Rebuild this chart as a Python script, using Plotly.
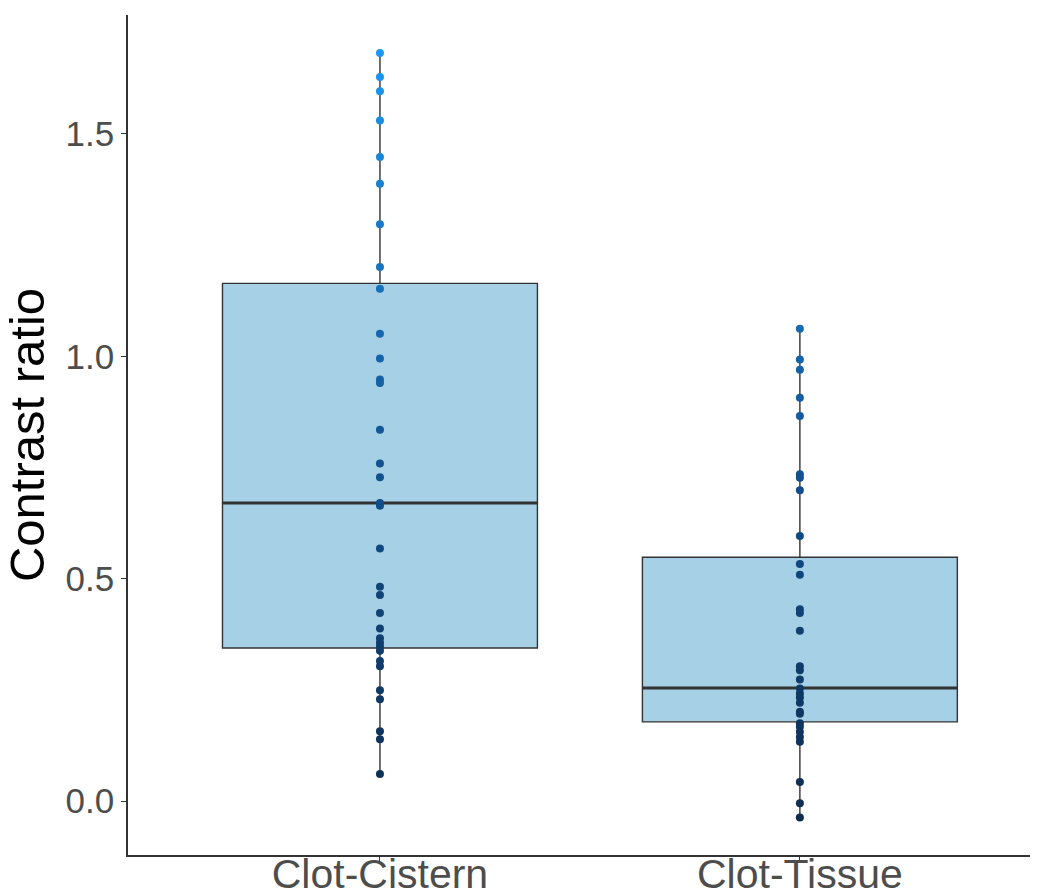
import plotly.graph_objects as go

# Groups and per-sample contrast ratios
categories = ["Clot-Cistern", "Clot-Tissue"]

cistern_values = [
    1.682, 1.628, 1.596, 1.530, 1.448, 1.388, 1.297, 1.201, 1.152,
    1.051, 0.995, 0.948, 0.940, 0.835, 0.759, 0.728, 0.670, 0.664,
    0.568, 0.482, 0.463, 0.423, 0.388, 0.366, 0.356, 0.347, 0.338,
    0.315, 0.303, 0.249, 0.229, 0.157, 0.139, 0.061,
]
tissue_values = [
    1.062, 0.993, 0.970, 0.907, 0.866, 0.735, 0.727, 0.699, 0.596,
    0.533, 0.509, 0.431, 0.423, 0.383, 0.303, 0.294, 0.273, 0.253,
    0.242, 0.233, 0.221, 0.201, 0.196, 0.175, 0.167, 0.156, 0.144,
    0.133, 0.043, -0.005, -0.037,
]

# Box summary statistics per group
q1_values = [0.344, 0.178]
median_values = [0.670, 0.254]
q3_values = [1.164, 0.548]
lower_fences = [0.061, -0.037]
upper_fences = [1.682, 1.062]

y_ticks = [0.0, 0.5, 1.0, 1.5]

BOX_WIDTH = 0.75
BOX_FILL = "#a5d0e5"
LINE_COLOR = "#333333"
POINT_SCALE = [[0.0, "#0e2c4e"], [0.45, "#11518f"], [1.0, "#1d97f0"]]
FONT = "Liberation Sans, Arial, sans-serif"

positions = list(range(len(categories)))

fig = go.Figure()

fig.add_trace(go.Box(
    x=positions,
    q1=q1_values,
    median=median_values,
    q3=q3_values,
    lowerfence=lower_fences,
    upperfence=upper_fences,
    width=BOX_WIDTH,
    whiskerwidth=0,
    fillcolor=BOX_FILL,
    line=dict(color=LINE_COLOR, width=1.4),
    boxpoints=False,
    hoverinfo="skip",
    showlegend=False,
))

# Heavier median bars drawn over each box
for pos, med in zip(positions, median_values):
    fig.add_trace(go.Scatter(
        x=[pos - BOX_WIDTH / 2, pos + BOX_WIDTH / 2],
        y=[med, med],
        mode="lines",
        line=dict(color=LINE_COLOR, width=3),
        hoverinfo="skip",
        showlegend=False,
    ))

all_values = cistern_values + tissue_values
vmin, vmax = min(all_values), max(all_values)

for pos, vals in zip(positions, [cistern_values, tissue_values]):
    fig.add_trace(go.Scatter(
        x=[pos] * len(vals),
        y=vals,
        mode="markers",
        marker=dict(
            size=8,
            color=vals,
            colorscale=POINT_SCALE,
            cmin=vmin,
            cmax=vmax,
            line=dict(width=0),
        ),
        showlegend=False,
    ))

fig.update_layout(
    width=1045,
    height=895,
    margin=dict(l=128, r=15, t=15, b=40),
    paper_bgcolor="white",
    plot_bgcolor="white",
    font=dict(family=FONT),
    xaxis=dict(
        range=[-0.6, 1.548],
        tickvals=positions,
        ticktext=categories,
        showgrid=False,
        zeroline=False,
        showline=True,
        linecolor=LINE_COLOR,
        linewidth=1.5,
        ticks="outside",
        ticklen=5,
        tickcolor=LINE_COLOR,
        tickfont=dict(size=41, color="#4d4d4d", family=FONT),
        ticklabelstandoff=-23,
        automargin=False,
    ),
    yaxis=dict(
        range=[-0.1214, 1.7675],
        tickvals=y_ticks,
        ticktext=[f"{v:.1f}" for v in y_ticks],
        showgrid=False,
        zeroline=False,
        showline=True,
        linecolor=LINE_COLOR,
        linewidth=1.5,
        ticks="outside",
        ticklen=5,
        tickcolor=LINE_COLOR,
        tickfont=dict(size=35, color="#4d4d4d", family=FONT),
        title=dict(text="Contrast ratio", font=dict(size=49, color="black", family=FONT), standoff=12),
        automargin=False,
    ),
)

fig.write_html("out.html")
